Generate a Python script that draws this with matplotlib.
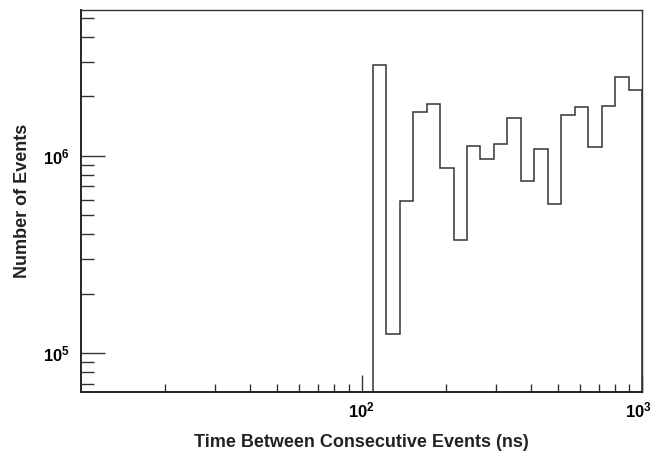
import numpy as np
import matplotlib
matplotlib.use("Agg")
import matplotlib.pyplot as plt
from matplotlib.ticker import LogLocator, NullFormatter, FixedLocator, FixedFormatter
from matplotlib.transforms import ScaledTranslation

plt.rcParams['font.family'] = ['Liberation Sans', 'DejaVu Sans']
plt.rcParams['mathtext.fontset'] = 'custom'
plt.rcParams['mathtext.rm'] = 'Liberation Sans:bold'
plt.rcParams['mathtext.bf'] = 'Liberation Sans:bold'

# histogram edges (log-spaced, ~109 ns up to 1000 ns) and counts per bin
bin_lo = 109.4
bin_hi = 1000.0
n_bins = 20
counts = [2.89e6, 1.26e5, 5.92e5, 1.67e6, 1.83e6, 8.69e5, 3.73e5, 1.12e6,
          9.66e5, 1.15e6, 1.56e6, 7.45e5, 1.085e6, 5.69e5, 1.61e6, 1.76e6,
          1.11e6, 1.78e6, 2.50e6, 2.14e6]

x_ticks = [100, 1000]
x_labels = [r'$\mathbf{10^{2}}$', r'$\mathbf{10^{3}}$']
y_ticks = [1e5, 1e6]
y_labels = [r'$\mathbf{10^{5}}$', r'$\mathbf{10^{6}}$']

edges = np.logspace(np.log10(bin_lo), np.log10(bin_hi), n_bins + 1)

fig = plt.figure(figsize=(6.54, 4.53), dpi=100)
ax = fig.add_axes([81 / 654, 1 - 392.3 / 453, (642.3 - 81) / 654, (392.3 - 9.5) / 453])

ax.stairs(counts, edges, baseline=1.0, color='#333333', linewidth=1.1)

ax.set_xscale('log')
ax.set_yscale('log')
ax.set_xlim(10, 1000)
ax.set_ylim(6.35e4, 5.5e6)

ax.xaxis.set_major_locator(FixedLocator(x_ticks))
ax.xaxis.set_major_formatter(FixedFormatter(x_labels))
ax.xaxis.set_minor_locator(LogLocator(base=10, subs=range(2, 10), numticks=20))
ax.xaxis.set_minor_formatter(NullFormatter())
ax.yaxis.set_major_locator(FixedLocator(y_ticks))
ax.yaxis.set_major_formatter(FixedFormatter(y_labels))
ax.yaxis.set_minor_locator(LogLocator(base=10, subs=range(2, 10), numticks=20))
ax.yaxis.set_minor_formatter(NullFormatter())

ax.tick_params(axis='x', which='major', direction='in', length=12, width=1, color='#333333', labelsize=12, pad=6)
ax.tick_params(axis='x', which='minor', direction='in', length=6, width=1, color='#333333')
ax.tick_params(axis='y', which='major', direction='in', length=17, width=1, color='#333333', labelsize=12, pad=8)
ax.tick_params(axis='y', which='minor', direction='in', length=9, width=1, color='#333333')

# nudge the 10^3 label left so it stays inside the figure
last = ax.xaxis.get_major_ticks()[-1].label1
last.set_transform(last.get_transform() + ScaledTranslation(-4 / 100, 0, fig.dpi_scale_trans))

for side in ['top', 'right']:
    ax.spines[side].set_color('#333333')
    ax.spines[side].set_linewidth(1.0)
for side in ['left', 'bottom']:
    ax.spines[side].set_color('#222222')
    ax.spines[side].set_linewidth(1.4)

ax.set_xlabel('Time Between Consecutive Events (ns)', fontsize=13, fontweight='bold', color='#222222', labelpad=10)
ax.set_ylabel('Number of Events', fontsize=13, fontweight='bold', color='#222222', labelpad=9)

fig.savefig('out.png', dpi=100)
